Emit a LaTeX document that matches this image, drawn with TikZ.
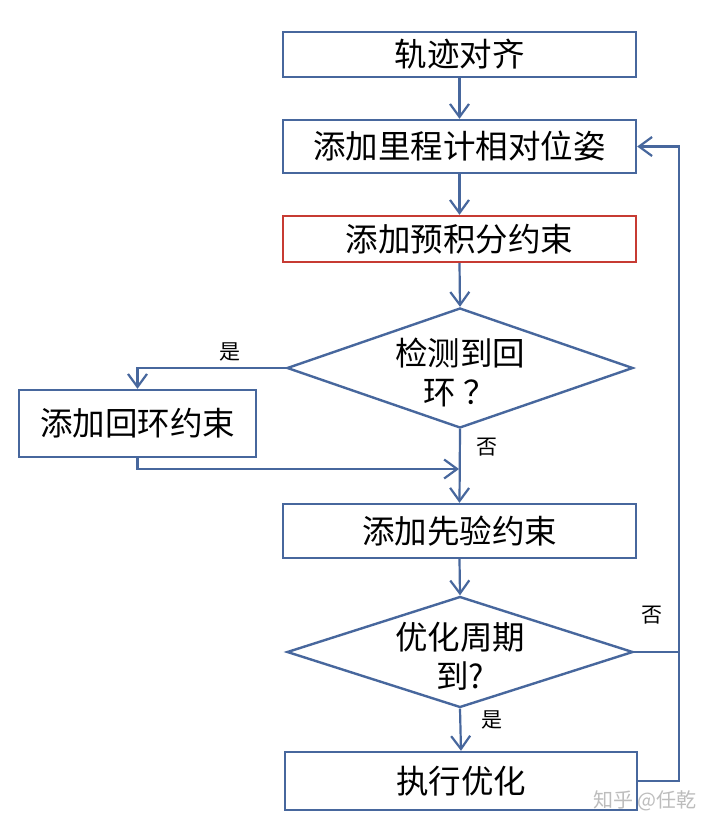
\documentclass[tikz,border=0pt]{standalone}
\usepackage{fontspec}
\setmainfont{Noto Sans CJK SC}
\usetikzlibrary{arrows.meta,shapes.geometric}
\definecolor{lineblue}{HTML}{47679D}
\definecolor{boxred}{HTML}{C73B33}
\definecolor{wmgray}{HTML}{BDBDBD}
\tikzset{
  stepbox/.style={draw=lineblue, line width=2.4pt, rectangle, inner sep=0pt,
    font=\fontsize{32.5}{38}\selectfont, text=black},
  redbox/.style={stepbox, draw=boxred},
  decision/.style={draw=lineblue, line width=2.4pt, diamond, inner sep=0pt},
  dtext/.style={align=center, font=\fontsize{32.5}{39}\selectfont, inner sep=0pt},
  lbl/.style={font=\fontsize{21}{24}\selectfont, inner sep=0pt},
  conn/.style={draw=lineblue, line width=2.2pt},
  arr/.style={conn, -{Straight Barb[length=13pt,width=19pt,line width=2.2pt]}},
}
\begin{document}
\begin{tikzpicture}[x=1pt,y=-1pt]
\useasboundingbox[fill=white] (0,0) rectangle (720,830);
\node[stepbox, minimum width=353pt, minimum height=45pt] (b1) at (459.5,54.5) {轨迹对齐};
\node[stepbox, minimum width=353pt, minimum height=53pt] (b2) at (459.5,146.5) {添加里程计相对位姿};
\node[redbox, minimum width=353pt, minimum height=46pt] (b3) at (459.5,239) {添加预积分约束};
\node[decision, minimum width=346pt, minimum height=120pt] (d1) at (460,368) {};
\node[dtext] (t1) at (460,372) {检测到回\\环\hspace{8pt}？};
\node[stepbox, minimum width=237pt, minimum height=67pt] (lb) at (137.5,423.5) {添加回环约束};
\node[stepbox, minimum width=353pt, minimum height=54pt] (b4) at (459.5,531) {添加先验约束};
\node[decision, minimum width=346pt, minimum height=111pt] (d2) at (460,652) {};
\node[dtext] (t2) at (460,656) {优化周期\\到?};
\node[stepbox, minimum width=352pt, minimum height=58pt] (b5) at (461,781) {执行优化};

\coordinate (m) at (459,469);
\coordinate (rx) at (679,0);

\draw[arr] (b1.south) -- (b2.north);
\draw[arr] (b2.south) -- (b3.north);
\draw[arr] (b3.south) -- (d1.north);
\draw[arr] (d1.west) -| (lb.north);
\draw[arr] (lb.south) |- (m);
\draw[arr] (d1.south) -- (b4.north);
\draw[arr] (b4.south) -- (d2.north);
\draw[arr] (d2.south) -- (b5.north);
\draw[arr] (d2.east) -- (d2.east -| rx) |- (b2.east);
\draw[conn] (b5.east) -- (b5.east -| rx) -- (d2.east -| rx);

\node[lbl] (l1) at (230,352) {是};
\node[lbl] (l2) at (487,447) {否};
\node[lbl] (l3) at (652,615) {否};
\node[lbl] (l4) at (492,720) {是};
\node[font=\fontsize{20}{24}\selectfont, text=wmgray, inner sep=0pt] (wm) at (645,801) {知乎 @任乾};
\end{tikzpicture}
\end{document}
